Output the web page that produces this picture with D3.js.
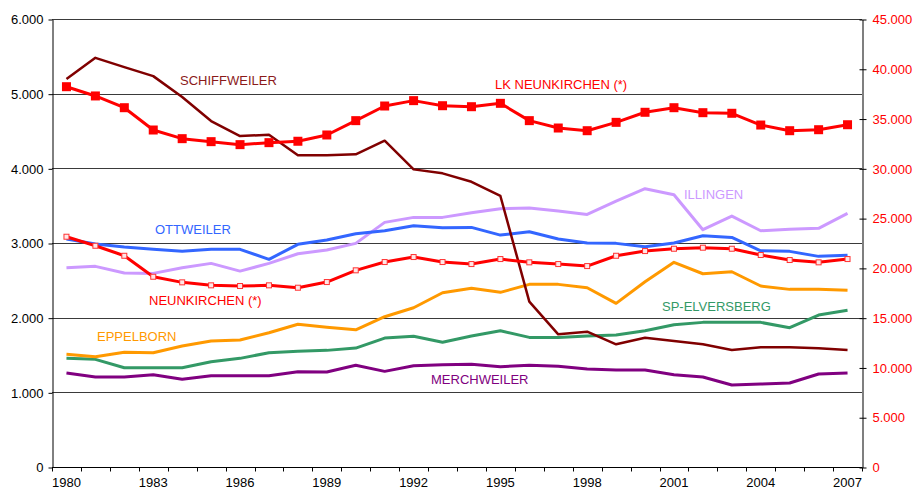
<!DOCTYPE html>
<html>
<head>
<meta charset="utf-8">
<script src="https://cdn.jsdelivr.net/npm/d3@7"></script>
<style>
  body { margin: 0; background: #fff; }
  text { font-family: "Liberation Sans", Arial, sans-serif; }
</style>
</head>
<body>
<script>
var years = [1980,1981,1982,1983,1984,1985,1986,1987,1988,1989,1990,1991,1992,1993,
             1994,1995,1996,1997,1998,1999,2000,2001,2002,2003,2004,2005,2006,2007];
var yearLabels = [1980,1983,1986,1989,1992,1995,1998,2001,2004,2007];
var leftTicks = [0,1000,2000,3000,4000,5000,6000];
var rightTicks = [0,5000,10000,15000,20000,25000,30000,35000,40000,45000];

// municipalities (left axis)
var schiffweiler = [5195,5480,5355,5235,4955,4633,4432,4450,4174,4174,4187,4370,3986,3933,
                    3820,3630,2214,1777,1812,1643,1731,1687,1643,1567,1603,1603,1590,1567];
var neunkirchen  = [3084,2963,2829,2548,2473,2433,2424,2433,2401,2477,2634,2745,2812,2745,
                    2718,2785,2741,2718,2691,2829,2892,2923,2937,2923,2839,2772,2741,2785];
var ottweiler    = [3053,2986,2946,2915,2888,2915,2915,2781,2982,3040,3124,3164,3231,3204,
                    3209,3106,3151,3053,2999,2995,2950,2999,3097,3075,2896,2888,2821,2835];
var illingen     = [2669,2687,2598,2593,2669,2727,2624,2727,2856,2906,2995,3276,3343,3343,
                    3405,3459,3468,3428,3383,3562,3727,3646,3178,3361,3164,3183,3196,3397];
var eppelborn    = [1509,1477,1536,1531,1620,1687,1701,1798,1911,1871,1838,2013,2133,2334,
                    2393,2339,2446,2446,2401,2192,2481,2741,2588,2615,2424,2379,2379,2366];
var elversberg   = [1455,1442,1330,1330,1330,1410,1455,1531,1549,1562,1593,1727,1750,1670,
                    1754,1825,1736,1736,1754,1767,1825,1905,1937,1937,1937,1865,2035,2098];
var merchweiler  = [1259,1205,1205,1236,1174,1223,1223,1223,1276,1272,1362,1281,1357,1370,
                    1375,1343,1362,1348,1312,1299,1299,1236,1205,1098,1111,1125,1245,1259];
// district total (right axis)
var lkNeunkirchen = [38200,37270,36090,33850,32980,32680,32380,32580,32720,33350,34790,36260,36800,36290,
                     36190,36530,34790,34050,33780,34620,35630,36090,35590,35530,34350,33780,33880,34380];

var W = 916, H = 490;
var m = {left: 52, right: 54, top: 19, bottom: 23};

var de = d3.formatLocale({decimal: ",", thousands: ".", grouping: [3], currency: ["", " €"]});
var fmt = de.format(",d");

var svg = d3.select("body").append("svg")
  .attr("width", W).attr("height", H);

var x = d3.scaleBand().domain(years).range([m.left, W - m.right]).padding(0);
var yL = d3.scaleLinear().domain([0, 6000]).range([H - m.bottom, m.top]);
var yR = d3.scaleLinear().domain([0, 45000]).range([H - m.bottom, m.top]);
var cx = function(d, i) { return x(years[i]) + x.bandwidth() / 2; };

// gridlines
svg.append("g").selectAll("line")
  .data(leftTicks.slice(1))
  .enter().append("line")
  .attr("x1", m.left).attr("x2", W - m.right)
  .attr("y1", function(d) { return Math.round(yL(d)) + 0.5; })
  .attr("y2", function(d) { return Math.round(yL(d)) + 0.5; })
  .attr("stroke", "#3a3a3a").attr("stroke-width", 1);

// left axis
var gl = svg.append("g")
  .attr("transform", "translate(" + (m.left + 0.5) + ",0.5)")
  .call(d3.axisLeft(yL).tickValues(leftTicks).tickFormat(fmt).tickSize(4).tickPadding(5).tickSizeOuter(0));
gl.selectAll("text").attr("font-size", 13).attr("fill", "#000");
gl.selectAll("line,path").attr("stroke", "#000");

// right axis
var gr = svg.append("g")
  .attr("transform", "translate(" + (W - m.right + 0.5) + ",0.5)")
  .call(d3.axisRight(yR).tickValues(rightTicks).tickFormat(fmt).tickSize(4).tickPadding(6).tickSizeOuter(0));
gr.selectAll("text").attr("font-size", 13).attr("fill", "#ff0000");
gr.select("path").attr("stroke", "#555").attr("stroke-width", 1.5);
gr.selectAll("line").attr("stroke", "#000").attr("x1", -3);

// bottom axis: labels under category centres, ticks at category edges
var gb = svg.append("g")
  .attr("transform", "translate(0," + (H - m.bottom + 0.5) + ")");
gb.append("line").attr("x1", m.left).attr("x2", W - m.right).attr("stroke", "#000");
var edges = years.map(function(d) { return x(d); }).concat([x.range()[1]]);
gb.selectAll("line.tk").data(edges).enter().append("line")
  .attr("class", "tk")
  .attr("x1", function(d) { return Math.round(d) + 0.5; })
  .attr("x2", function(d) { return Math.round(d) + 0.5; })
  .attr("y1", 0).attr("y2", 4).attr("stroke", "#000");
gb.selectAll("text").data(yearLabels).enter().append("text")
  .attr("x", function(d) { return x(d) + x.bandwidth() / 2; })
  .attr("y", 19)
  .attr("text-anchor", "middle").attr("font-size", 13).attr("fill", "#000")
  .text(function(d) { return d; });

// lines
var series = [
  {name: "MERCHWEILER", vals: merchweiler, scale: yL, color: "#800080", w: 3},
  {name: "SP-ELVERSBERG", vals: elversberg, scale: yL, color: "#339966", w: 3},
  {name: "EPPELBORN", vals: eppelborn, scale: yL, color: "#ff9900", w: 3},
  {name: "ILLINGEN", vals: illingen, scale: yL, color: "#cc99ff", w: 3},
  {name: "OTTWEILER", vals: ottweiler, scale: yL, color: "#3366ff", w: 3},
  {name: "SCHIFFWEILER", vals: schiffweiler, scale: yL, color: "#800000", w: 2.5},
  {name: "NEUNKIRCHEN", vals: neunkirchen, scale: yL, color: "#ff0000", w: 3},
  {name: "LK NEUNKIRCHEN", vals: lkNeunkirchen, scale: yR, color: "#ff0000", w: 3}
];

series.forEach(function(s) {
  var line = d3.line().x(cx).y(function(d) { return s.scale(d); });
  svg.append("path").datum(s.vals)
    .attr("d", line)
    .attr("fill", "none")
    .attr("stroke", s.color)
    .attr("stroke-width", s.w)
    .attr("stroke-linejoin", "round");
});

// hollow squares for NEUNKIRCHEN
svg.append("g").selectAll("rect")
  .data(neunkirchen).enter().append("rect")
  .attr("x", function(d, i) { return cx(d, i) - 2.5; })
  .attr("y", function(d) { return yL(d) - 2.5; })
  .attr("width", 5).attr("height", 5)
  .attr("fill", "#ffe6e6").attr("stroke", "#ff3333").attr("stroke-width", 1);

// filled squares for LK NEUNKIRCHEN
svg.append("g").selectAll("rect")
  .data(lkNeunkirchen).enter().append("rect")
  .attr("x", function(d, i) { return cx(d, i) - 4.5; })
  .attr("y", function(d) { return yR(d) - 4.5; })
  .attr("width", 9).attr("height", 9)
  .attr("fill", "#ff0000");

// series labels
var labels = [
  {t: "SCHIFFWEILER", x: 180, y: 85, c: "#8b1a1a"},
  {t: "LK NEUNKIRCHEN (*)", x: 495, y: 89, c: "#ff0000"},
  {t: "OTTWEILER", x: 155, y: 234, c: "#3366ff"},
  {t: "ILLINGEN", x: 684, y: 199, c: "#cc99ff"},
  {t: "NEUNKIRCHEN (*)", x: 149, y: 305, c: "#ff0000"},
  {t: "EPPELBORN", x: 97, y: 341, c: "#ff9900"},
  {t: "SP-ELVERSBERG", x: 662, y: 311, c: "#339966"},
  {t: "MERCHWEILER", x: 431, y: 384, c: "#800080"}
];
svg.append("g").selectAll("text")
  .data(labels).enter().append("text")
  .attr("x", function(d) { return d.x; })
  .attr("y", function(d) { return d.y; })
  .attr("font-size", 13)
  .attr("fill", function(d) { return d.c; })
  .text(function(d) { return d.t; });
</script>
</body>
</html>
